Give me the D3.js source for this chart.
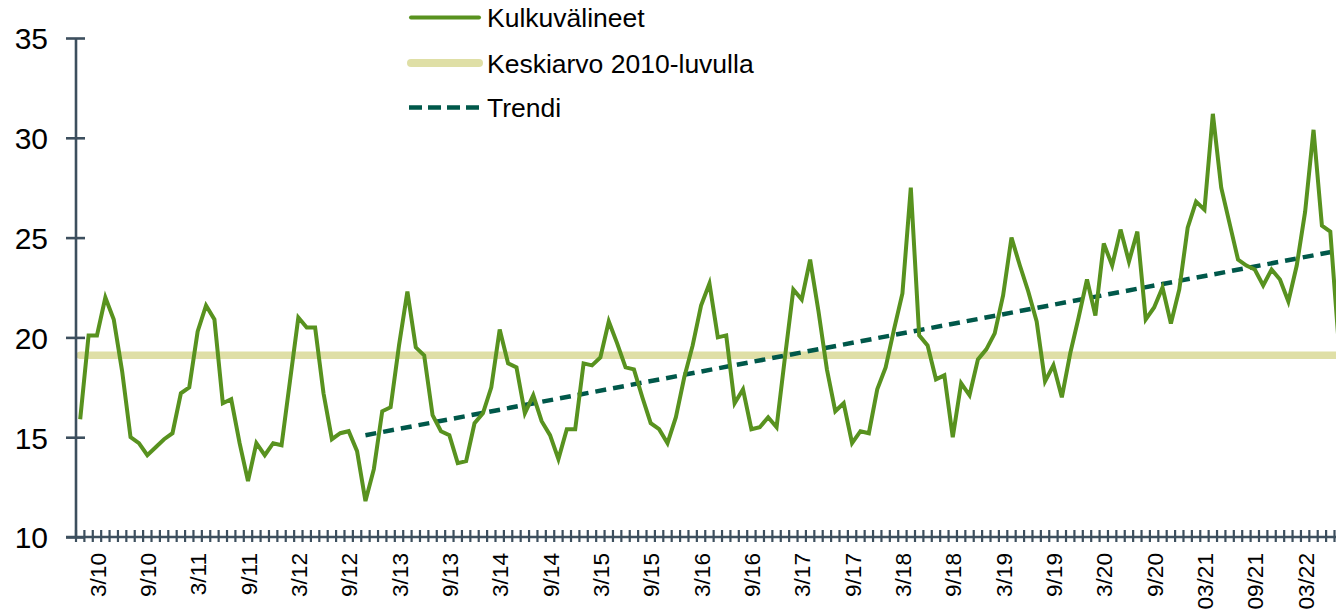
<!DOCTYPE html>
<html>
<head>
<meta charset="utf-8">
<script src="https://cdn.jsdelivr.net/npm/d3@7"></script>
<style>
  html, body { margin: 0; padding: 0; background: #fff; }
  svg { display: block; font-family: Arial, "Liberation Sans", sans-serif; }
</style>
</head>
<body>
<svg id="chart" width="1336" height="612"></svg>
<script>
// ---- Data ----
const startYear = 2010;
const months = d3.range(151).map(i => `${startYear + Math.floor(i / 12)}-${String(i % 12 + 1).padStart(2, "0")}`);

const kulkuvalineet = [
  15.9, 20.1, 20.1, 22.0, 20.9, 18.3, 15.0, 14.7, 14.1, 14.5, 14.9, 15.2,
  17.2, 17.5, 20.3, 21.6, 20.9, 16.7, 16.9, 14.7, 12.8, 14.7, 14.1, 14.7,
  14.6, 17.8, 21.0, 20.5, 20.5, 17.2, 14.9, 15.2, 15.3, 14.3, 11.8, 13.4,
  16.3, 16.5, 19.6, 22.3, 19.5, 19.1, 16.1, 15.3, 15.1, 13.7, 13.8, 15.7,
  16.2, 17.5, 20.4, 18.7, 18.5, 16.2, 17.1, 15.8, 15.1, 13.9, 15.4, 15.4,
  18.7, 18.6, 19.0, 20.8, 19.7, 18.5, 18.4, 17.0, 15.7, 15.4, 14.7, 16.0,
  18.0, 19.6, 21.6, 22.7, 20.0, 20.1, 16.7, 17.4, 15.4, 15.5, 16.0, 15.5,
  19.0, 22.4, 21.9, 23.9, 21.3, 18.4, 16.3, 16.7, 14.7, 15.3, 15.2, 17.4,
  18.5, 20.4, 22.2, 27.5, 20.1, 19.6, 17.9, 18.1, 15.0, 17.7, 17.1, 18.9,
  19.4, 20.2, 22.1, 25.0, 23.6, 22.3, 20.8, 17.8, 18.6, 17.0, 19.2, 21.0,
  22.9, 21.1, 24.7, 23.6, 25.4, 23.8, 25.3, 20.9, 21.5, 22.5, 20.7, 22.4,
  25.5, 26.8, 26.4, 31.2, 27.5, 25.7, 23.9, 23.6, 23.4, 22.6, 23.4, 22.9,
  21.8, 23.6, 26.3, 30.4, 25.6, 25.3, 19.7
];

const keskiarvoValue = [19.1];           // average of the 2010s
const trendMonths = ["2012-11", "2022-07"];
const trendValues = [15.1, 24.35];

const tickMonths = [
  "2010-03","2010-09","2011-03","2011-09","2012-03","2012-09","2013-03","2013-09",
  "2014-03","2014-09","2015-03","2015-09","2016-03","2016-09","2017-03","2017-09",
  "2018-03","2018-09","2019-03","2019-09","2020-03","2020-09","2021-03","2021-09","2022-03"
];
const tickLabels = [
  "3/10","9/10","3/11","9/11","3/12","9/12","3/13","9/13",
  "3/14","9/14","3/15","9/15","3/16","9/16","3/17","9/17",
  "3/18","9/18","3/19","9/19","3/20","9/20","03/21","09/21","03/22"
];
const yTicks = [10, 15, 20, 25, 30, 35];

const seriesNames = ["Kulkuvälineet", "Keskiarvo 2010-luvulla", "Trendi"];

// ---- Layout ----
const svg = d3.select("#chart");
const x0 = 76, bandW = 8.39;
const x = d3.scaleBand().domain(months).range([x0, x0 + bandW * months.length]).padding(0);
const y = d3.scaleLinear().domain([10, 35]).range([537, 38]);
const cx = m => x(m) + x.bandwidth() / 2;

const axisColor = "#3d4f5e";
const green = "#58921f";
const avgColor = "#dfdfa6";
const trendColor = "#00584a";

// Average line
svg.append("line")
  .attr("x1", cx(months[0])).attr("x2", cx(months[months.length - 1]))
  .attr("y1", y(keskiarvoValue[0])).attr("y2", y(keskiarvoValue[0]))
  .attr("stroke", avgColor).attr("stroke-width", 7.5).attr("stroke-linecap", "round");

// Trend line
svg.append("path")
  .datum(trendMonths.map((m, i) => ({ m, v: trendValues[i] })))
  .attr("fill", "none").attr("stroke", trendColor).attr("stroke-width", 4.5)
  .attr("stroke-dasharray", "11,7")
  .attr("d", d3.line().x(d => cx(d.m)).y(d => y(d.v)));

// Main series
svg.append("path")
  .datum(kulkuvalineet.map((v, i) => ({ m: months[i], v })))
  .attr("fill", "none").attr("stroke", green).attr("stroke-width", 4)
  .attr("stroke-linejoin", "miter")
  .attr("d", d3.line().x(d => cx(d.m)).y(d => y(d.v)));

// Y axis
const yAxis = svg.append("g").attr("transform", `translate(${x0},0)`)
  .call(d3.axisLeft(y).tickValues(yTicks).tickSize(9).tickPadding(0));
yAxis.select(".domain").remove();
yAxis.append("line").attr("x1", 0).attr("x2", 0).attr("y1", y(35)).attr("y2", y(10))
  .attr("stroke", axisColor).attr("stroke-width", 2.6);
yAxis.selectAll(".tick line").attr("x1", -10).attr("x2", 9).attr("stroke", axisColor).attr("stroke-width", 2.6);
yAxis.selectAll(".tick text").attr("x", -28).attr("dy", "0.36em")
  .attr("font-size", "30px").attr("fill", "#000").attr("font-family", "Arial, 'Liberation Sans', sans-serif");

// X axis
const xAxisG = svg.append("g");
xAxisG.append("line").attr("x1", 66).attr("x2", 1336).attr("y1", 537).attr("y2", 537)
  .attr("stroke", axisColor).attr("stroke-width", 2.6);
xAxisG.selectAll("line.mtick").data(months.concat(["end"])).join("line")
  .attr("class", "mtick")
  .attr("x1", (d, i) => x0 + i * bandW).attr("x2", (d, i) => x0 + i * bandW)
  .attr("y1", 530).attr("y2", 542)
  .attr("stroke", axisColor).attr("stroke-width", 2.2);
xAxisG.selectAll("text.xlab").data(tickMonths).join("text")
  .attr("class", "xlab")
  .attr("transform", d => `translate(${cx(d) + 0.5},553) rotate(-90)`)
  .attr("text-anchor", "end").attr("dy", "0.36em")
  .attr("font-size", "22.6px").attr("fill", "#000")
  .text((d, i) => tickLabels[i]);

// Legend
const legend = svg.append("g");
const legendRows = [
  { y: 17.5, color: green, w: 4, dash: null, cap: "round" },
  { y: 63, color: avgColor, w: 8, dash: null, cap: "round" },
  { y: 107.5, color: trendColor, w: 4.5, dash: "13,6", cap: "butt" }
];
legendRows.forEach((r, i) => {
  legend.append("line").attr("x1", r.cap === "round" ? 411 : 409).attr("x2", r.cap === "round" ? 479 : 481)
    .attr("y1", r.y).attr("y2", r.y)
    .attr("stroke", r.color).attr("stroke-width", r.w).attr("stroke-linecap", r.cap)
    .attr("stroke-dasharray", r.dash);
  legend.append("text").attr("x", 487).attr("y", r.y).attr("dy", "0.36em")
    .attr("font-size", "26.5px").attr("fill", "#000").text(seriesNames[i]);
});
</script>
</body>
</html>
